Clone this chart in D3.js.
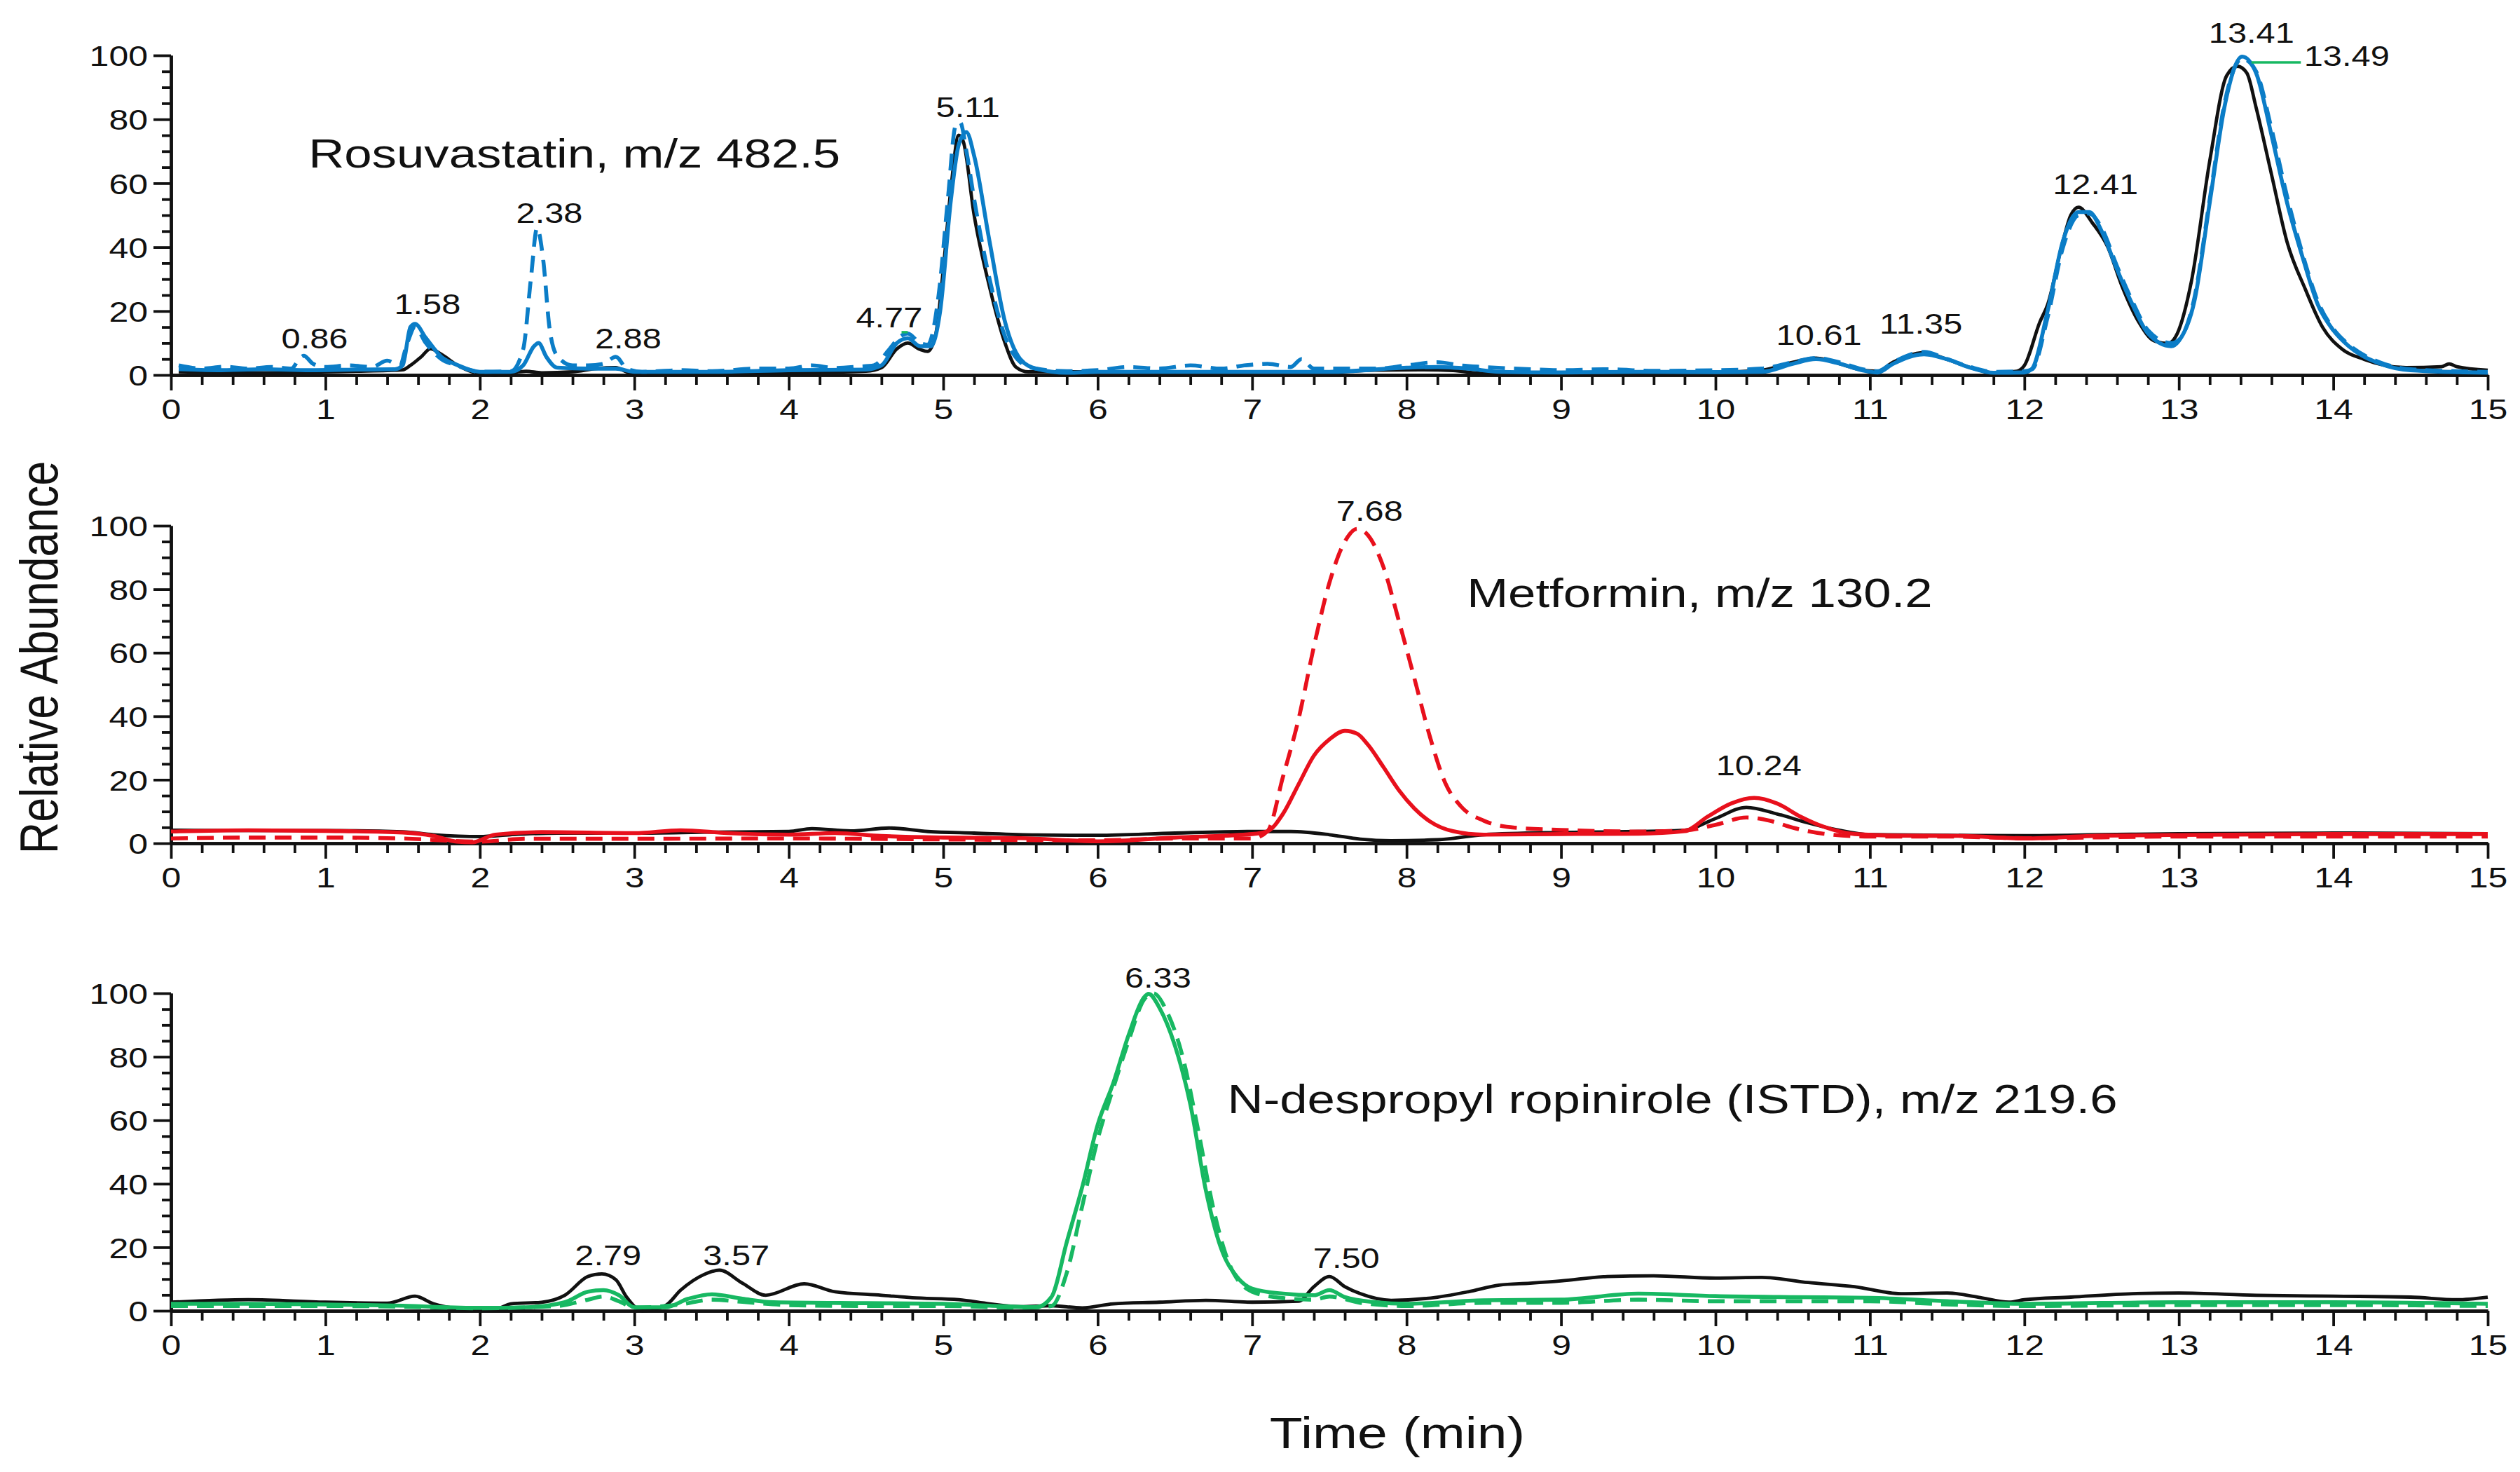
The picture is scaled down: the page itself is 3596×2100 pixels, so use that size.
<!DOCTYPE html>
<html lang="en">
<head>
<meta charset="UTF-8">
<title>Chromatograms</title>
<script src="https://d3js.org/d3.v7.min.js"></script>
<style>
  * { margin: 0; padding: 0; }
  body { background: #fff; }
  svg { display: block; }
  text { font-family: "Liberation Sans", Arial, sans-serif; fill: #111; }
</style>
</head>
<body>
<svg id="chart" width="3596" height="2100"></svg>
<script>
// ---- data: [time (min), relative abundance] ----
var timeTicks = d3.range(0, 16);
var abundanceTicks = [0, 20, 40, 60, 80, 100];

// Rosuvastatin, m/z 482.5
var rosuBlack = [[0.05,1],[0.3,0.8],[0.6,0.7],[0.9,0.9],[1.2,1.2],[1.4,1.4],[1.5,1.6],[1.55,3],[1.62,5.7],[1.68,8.2],[1.75,6.5],[1.85,3.2],[1.95,1],[2.1,0],[2.2,0.7],[2.3,1.2],[2.4,0.7],[2.6,1],[2.75,2],[2.88,2.3],[2.95,1],[3.05,0],[3.5,0.3],[4.0,0.7],[4.5,1.2],[4.6,2.3],[4.7,8.2],[4.77,10],[4.85,8],[4.9,7.4],[4.95,12.4],[5.0,33],[5.05,58.5],[5.1,75],[5.13,73],[5.2,50],[5.3,27.5],[5.4,10],[5.47,2.5],[5.55,1],[6.0,1],[6.5,0.8],[7.0,1],[7.5,1],[7.8,1.5],[8.1,1.6],[8.3,1.4],[8.5,0.5],[9.0,0.8],[9.5,0.8],[10.0,0.9],[10.3,1.5],[10.5,4],[10.65,5.3],[10.8,3.6],[10.95,1.5],[11.05,1.2],[11.15,4],[11.35,7],[11.5,4.9],[11.65,2.3],[11.8,0.7],[11.95,1.2],[12.0,3],[12.1,16.6],[12.15,22],[12.25,42],[12.3,50],[12.35,52.5],[12.44,47.6],[12.54,40],[12.63,28],[12.74,16.6],[12.84,10.7],[12.93,9.9],[12.99,13],[13.08,29],[13.2,67],[13.31,93.7],[13.38,96.6],[13.44,94.5],[13.5,83.7],[13.6,62.7],[13.7,41.7],[13.82,26.7],[13.93,15],[14.06,8],[14.2,4.9],[14.47,2.3],[14.7,2.6],[14.75,3.5],[14.8,2.6],[15,1.5]];
var rosuBlue = [[0.05,1.8],[0.3,1.5],[0.6,1.8],[0.9,1.5],[1.2,1.7],[1.45,1.8],[1.5,3],[1.55,15],[1.58,16],[1.65,11.6],[1.75,5.7],[1.85,3.2],[2.0,1],[2.2,1],[2.28,3],[2.35,9],[2.38,10],[2.43,5.7],[2.5,2.3],[2.7,2],[2.88,2],[3.0,1],[3.5,1],[4.0,1.5],[4.5,1.7],[4.6,3],[4.7,10],[4.77,11.5],[4.85,9],[4.92,9],[4.98,20],[5.05,55],[5.1,72],[5.15,76],[5.2,68.6],[5.3,41.7],[5.4,16.6],[5.5,4.9],[5.6,2],[5.8,0.7],[6.0,1],[6.5,1],[7.0,1],[7.5,1],[8.0,2.3],[8.2,2.5],[8.4,2],[8.6,1],[9.0,0.8],[9.5,1],[10.0,0.9],[10.3,1],[10.5,3.5],[10.65,5],[10.8,3.6],[10.95,1.5],[11.05,0.8],[11.15,3.5],[11.35,6.5],[11.5,4.9],[11.65,2.3],[11.8,0.7],[12.0,0.8],[12.05,2],[12.15,20],[12.25,42],[12.35,51],[12.42,51],[12.5,45],[12.6,33],[12.7,22],[12.8,13],[12.95,9],[13.0,10.7],[13.1,23],[13.2,54],[13.3,85],[13.41,99.6],[13.5,94.5],[13.6,75],[13.7,54],[13.8,37],[13.9,22],[14.0,14],[14.1,9],[14.3,3.6],[14.5,1.5],[15,0.7]];
var rosuBlueDash = [[0.05,3],[0.2,2],[0.35,2.6],[0.5,2],[0.65,2.5],[0.78,2],[0.83,5],[0.86,6],[0.92,3.5],[1.0,2.5],[1.15,3],[1.3,2.5],[1.4,4.5],[1.48,3],[1.53,10],[1.58,15],[1.65,10],[1.75,5],[1.85,3],[2.0,1],[2.2,1.2],[2.28,8],[2.33,30],[2.37,46],[2.41,36],[2.45,15],[2.5,6],[2.6,3],[2.7,3],[2.8,3.5],[2.88,5.7],[2.95,2],[3.05,1],[3.3,1.5],[3.5,1.2],[3.8,2],[4.0,2],[4.15,3],[4.3,2.2],[4.45,2.6],[4.55,3],[4.65,8],[4.72,12],[4.77,13],[4.85,10],[4.9,9.5],[4.97,25],[5.03,55],[5.08,78],[5.11,79],[5.15,70],[5.2,55],[5.3,30],[5.4,12],[5.5,4],[5.6,2],[5.8,1.2],[6.0,1.5],[6.2,2.5],[6.4,2],[6.6,3],[6.8,2],[6.95,3],[7.1,3.5],[7.25,2.5],[7.32,5],[7.4,2],[7.6,2],[7.8,2],[8.0,3],[8.2,4],[8.35,3],[8.5,2.5],[8.8,1.8],[9.0,1.5],[9.3,1.8],[9.6,1.3],[10.0,1.5],[10.3,2],[10.5,4],[10.65,5.3],[10.8,4],[10.95,1.8],[11.05,1.2],[11.15,4],[11.35,7.2],[11.5,5],[11.65,2.5],[11.8,1],[12.0,1.2],[12.05,1.8],[12.15,18],[12.25,40],[12.35,50],[12.42,50.5],[12.5,46],[12.6,34],[12.7,23],[12.8,14],[12.95,10],[13.0,11],[13.1,24],[13.2,55],[13.3,86],[13.41,99],[13.5,95],[13.6,77],[13.7,56],[13.8,38],[13.9,23],[14.0,14.5],[14.1,9.5],[14.3,4],[14.5,1.8],[14.8,1.2],[15,1]];
var rosuTitle = ["Rosuvastatin, m/z 482.5", 0.89, 65];
var rosuPeaks = [["0.86",0.93,8.4],["1.58",1.66,19],["2.38",2.45,47.6],["2.88",2.96,8.4],["4.77",4.65,15],["5.11",5.16,80.8],["10.61",10.67,9.4],["11.35",11.33,13],["12.41",12.46,56.5],["13.41",13.47,104]];
var rosuSidePeaks = [["13.49",13.81,96.7]];
var rosuLeaders = [[13.47,13.79,97.8],[4.73,4.77,13.4]];

// Metformin, m/z 130.2
var metBlack = [[0,4.1],[0.5,4],[1.0,4],[1.5,3.6],[1.7,2.7],[2.0,2.1],[2.2,2.7],[2.5,3.2],[3.0,3.2],[3.5,3.5],[4.0,3.7],[4.15,4.6],[4.4,3.9],[4.65,4.8],[4.9,3.7],[5.2,3.2],[5.6,2.6],[6.0,2.5],[6.5,3.2],[7.0,3.7],[7.25,3.7],[7.5,2.7],[7.7,1.3],[7.9,0.8],[8.2,1.1],[8.5,2.7],[9.0,3.4],[9.5,3.7],[9.8,4.1],[10.0,7.8],[10.2,11.3],[10.4,9.2],[10.6,6.4],[10.8,4.1],[11.0,2.7],[11.5,2.5],[12.0,2.4],[12.5,2.7],[13.0,3],[14.0,3.2],[15,3]];
var metRed = [[0,3.7],[0.5,4.1],[1.0,3.9],[1.5,3.4],[1.7,2.3],[1.85,0.5],[1.95,0.3],[2.1,2.7],[2.4,3.5],[3.0,3.2],[3.3,4.1],[3.6,3.2],[4.0,2.7],[4.3,3.2],[4.6,2.3],[5.0,1.8],[5.5,1.6],[6.0,0.6],[6.5,1.8],[7.0,2.9],[7.1,3.8],[7.2,9.3],[7.3,18.5],[7.4,27.6],[7.5,32.7],[7.6,35.4],[7.68,34.5],[7.75,31],[7.85,24],[7.95,16.7],[8.05,11],[8.15,6.9],[8.3,3.8],[8.5,2.7],[9.0,2.9],[9.5,3],[9.8,3.8],[9.95,8.4],[10.1,12.5],[10.25,14.3],[10.4,12.5],[10.55,8.4],[10.7,5.2],[10.9,2.9],[11.2,2.4],[11.6,2.3],[12.0,1.5],[12.5,2.4],[13.0,2.6],[14.0,2.9],[15,2.9]];
var metRedDash = [[0,1.5],[0.5,1.8],[1.0,1.8],[1.5,1.5],[2.0,0.5],[2.3,1.4],[3.0,1.4],[4.0,1.5],[5.0,1.2],[6.0,0.9],[6.5,1.5],[7.0,1.5],[7.1,3.8],[7.2,21],[7.3,39],[7.4,62],[7.5,82],[7.6,95],[7.68,99],[7.75,97],[7.85,87],[7.95,70],[8.05,52],[8.15,33.7],[8.25,19],[8.35,11.7],[8.5,7.1],[8.7,4.9],[9.0,4.2],[9.5,3.7],[9.8,4],[10.0,5.8],[10.2,8.1],[10.35,7.1],[10.5,4.9],[10.7,3],[11.0,2.1],[11.5,2.1],[12.0,1.6],[13.0,2.1],[14.0,2.1],[15,2.1]];
var metTitle = ["Metformin, m/z 130.2", 8.39, 74.4];
var metPeaks = [["7.68",7.76,101.5],["10.24",10.28,21.4]];

// N-despropyl ropinirole (ISTD), m/z 219.6
var istdBlack = [[0,2.7],[0.5,3.5],[1.0,2.7],[1.4,2.4],[1.58,4.6],[1.7,2.2],[1.85,0.8],[2.1,0.5],[2.2,2.2],[2.4,2.7],[2.55,4.9],[2.7,10.8],[2.79,11.6],[2.88,9.8],[2.95,4.3],[3.05,0],[3.2,1.6],[3.3,6.5],[3.45,11.4],[3.55,12.8],[3.7,8.7],[3.85,4.9],[4.1,8.5],[4.3,6],[4.6,4.9],[4.8,4.1],[5.1,3.5],[5.3,2.2],[5.5,1.3],[5.7,1.6],[5.9,0.9],[6.1,2.2],[6.4,2.7],[6.7,3.3],[7.0,2.7],[7.3,3],[7.4,7.6],[7.5,10.8],[7.6,7.6],[7.7,5.4],[7.9,3.3],[8.2,4.3],[8.4,6],[8.6,8.1],[8.8,8.7],[9.0,9.4],[9.3,10.8],[9.6,11],[10.0,10.3],[10.3,10.5],[10.6,8.9],[10.9,7.6],[11.2,5.4],[11.5,5.6],[11.7,4.3],[11.9,2.7],[12.0,3.5],[12.3,4.3],[12.7,5.4],[13.0,5.6],[13.5,4.9],[14.0,4.6],[14.5,4.3],[14.8,3.5],[15,4.3]];
var istdGreen = [[0,2.2],[0.5,2.2],[1.0,2],[1.5,1.6],[2.0,0.9],[2.3,1.1],[2.55,2.7],[2.7,6],[2.8,6.5],[2.9,4.9],[3.0,1.1],[3.2,1.1],[3.35,3.8],[3.5,5.2],[3.7,3.8],[3.9,2.7],[4.5,2.4],[5.0,2.2],[5.3,1.6],[5.6,1.1],[5.7,4.3],[5.8,21.7],[5.9,39],[6.0,58.6],[6.1,71.6],[6.2,86.8],[6.3,98.7],[6.33,99.8],[6.4,95.4],[6.5,83.5],[6.6,65],[6.7,38],[6.8,19.5],[6.9,10.8],[7.0,7],[7.2,5.4],[7.4,4.9],[7.5,6.5],[7.6,4.3],[7.8,2.7],[8.0,2.2],[8.5,3.3],[9.0,3.5],[9.5,5.4],[10.0,4.6],[10.5,4.3],[11.0,4.1],[11.5,3],[12.0,2.2],[13.0,2.7],[14.0,2.7],[15,2.2]];
var istdGreenDash = [[0,1.5],[0.5,1.5],[1.0,1.5],[1.5,1.3],[2.0,0.8],[2.5,1.5],[2.7,3.5],[2.8,4.5],[2.9,3],[3.0,1],[3.3,2],[3.5,3.5],[3.7,2.8],[4.0,1.8],[4.5,1.5],[5.0,1.5],[5.5,1],[5.7,1.5],[5.8,12],[5.9,33],[6.0,54],[6.1,70],[6.2,85],[6.3,98],[6.36,100],[6.45,94],[6.55,80],[6.65,57],[6.75,32],[6.85,15],[7.0,6],[7.2,4],[7.4,3.5],[7.5,4.5],[7.7,2.5],[8.0,1.5],[8.5,2.5],[9.0,2.5],[9.5,3.5],[10.0,3],[11.0,3],[11.5,2],[12.0,1.5],[13.0,1.8],[14.0,1.8],[15,1.5]];
var istdTitle = ["N-despropyl ropinirole (ISTD), m/z 219.6", 6.84, 62.3];
var istdPeaks = [["2.79",2.83,14.3],["3.57",3.66,14.3],["6.33",6.39,101.7],["7.50",7.61,13.5]];

// ---- layout ----
var BLACK = "#111", BLUE = "#0b7dc7", RED = "#e8101c", GREEN = "#17b862";
var left = 244, right = 3550;
var SX = 1.22;          // the source figure is stretched sideways, glyphs too
var DASH = "24,13";

var panels = [
  { top: 79,   bottom: 535,  title: rosuTitle, peaks: rosuPeaks, side: rosuSidePeaks, leaders: rosuLeaders, leaderColor: GREEN,
    series: [{ d: rosuBlack, c: BLACK }, { d: rosuBlueDash, c: BLUE, dash: true }, { d: rosuBlue, c: BLUE }] },
  { top: 750,  bottom: 1203, title: metTitle, peaks: metPeaks, side: [], leaders: [],
    series: [{ d: metBlack, c: BLACK }, { d: metRedDash, c: RED, dash: true }, { d: metRed, c: RED }] },
  { top: 1417, bottom: 1870, title: istdTitle, peaks: istdPeaks, side: [], leaders: [],
    series: [{ d: istdBlack, c: BLACK }, { d: istdGreenDash, c: GREEN, dash: true }, { d: istdGreen, c: GREEN }] }
];

var svg = d3.select("#chart");
svg.append("rect").attr("width", 3596).attr("height", 2100).attr("fill", "#fff");

var x = d3.scaleLinear().domain([0, 15]).range([left, right]);
var minorTimes = d3.range(0, 75).map(function (i) { return i * 0.2; }).filter(function (t) { return Math.abs(t - Math.round(t)) > 0.01; });
var minorAbund = d3.range(0, 101, 5).filter(function (v) { return v % 20 !== 0; });

function styleAxis(g) {
  g.select(".domain").attr("stroke", BLACK).attr("stroke-width", 4.5);
  g.selectAll(".tick line").attr("stroke", BLACK).attr("stroke-width", 3.8);
}

panels.forEach(function (p) {
  var y = d3.scaleLinear().domain([0, 100]).range([p.bottom, p.top]);
  var g = svg.append("g");

  // minor ticks
  g.append("g").attr("transform", "translate(0," + p.bottom + ")")
    .call(d3.axisBottom(x).tickValues(minorTimes).tickSize(14).tickSizeOuter(0).tickFormat(""))
    .call(styleAxis);
  g.append("g").attr("transform", "translate(" + left + ",0)")
    .call(d3.axisLeft(y).tickValues(minorAbund).tickSize(13).tickSizeOuter(0).tickFormat(""))
    .call(styleAxis);

  // major ticks + labels
  var xa = g.append("g").attr("transform", "translate(0," + p.bottom + ")")
    .call(d3.axisBottom(x).tickValues(timeTicks).tickSize(22).tickSizeOuter(0).tickFormat(d3.format("d")))
    .call(styleAxis);
  xa.selectAll("text").attr("y", 63).attr("dy", 0)
    .attr("transform", "scale(" + SX + ",1)")
    .style("font-size", "41px").style("font-family", "'Liberation Sans', Arial, sans-serif").attr("fill", "#1a1a1a");

  var ya = g.append("g").attr("transform", "translate(" + left + ",0)")
    .call(d3.axisLeft(y).tickValues(abundanceTicks).tickSize(25).tickSizeOuter(0).tickFormat(d3.format("d")))
    .call(styleAxis);
  ya.selectAll("text").attr("x", -33 / SX).attr("dy", "0.36em")
    .attr("transform", "scale(" + SX + ",1)")
    .style("font-size", "41px").style("font-family", "'Liberation Sans', Arial, sans-serif").attr("fill", "#1a1a1a");

  // traces
  var line = d3.line()
    .x(function (d) { return x(d[0]); })
    .y(function (d) { return y(d[1]); })
    .curve(d3.curveMonotoneX);
  p.series.forEach(function (s) {
    g.append("path").datum(s.d)
      .attr("d", line)
      .attr("fill", "none")
      .attr("stroke", s.c)
      .attr("stroke-width", s.c === BLACK ? 4.8 : 5.6)
      .attr("stroke-linejoin", "round")
      .attr("stroke-dasharray", s.dash ? DASH : null);
  });

  // leader lines
  g.selectAll(".leader").data(p.leaders).enter().append("line")
    .attr("x1", function (d) { return x(d[0]); })
    .attr("x2", function (d) { return x(d[1]); })
    .attr("y1", function (d) { return y(d[2]); })
    .attr("y2", function (d) { return y(d[2]); })
    .attr("stroke", p.leaderColor).attr("stroke-width", 3.5);

  // peak labels
  g.selectAll(".peak").data(p.peaks).enter().append("text")
    .attr("transform", function (d) { return "translate(" + x(d[1]) + "," + y(d[2]) + ") scale(" + SX + ",1)"; })
    .attr("text-anchor", "middle")
    .style("font-size", "40px")
    .attr("fill", "#1a1a1a")
    .text(function (d) { return d[0]; });
  g.selectAll(".side").data(p.side).enter().append("text")
    .attr("transform", function (d) { return "translate(" + x(d[1]) + "," + y(d[2]) + ") scale(" + SX + ",1)"; })
    .attr("text-anchor", "start")
    .style("font-size", "40px")
    .attr("fill", "#1a1a1a")
    .text(function (d) { return d[0]; });

  // compound title
  g.append("text")
    .attr("transform", "translate(" + x(p.title[1]) + "," + y(p.title[2]) + ") scale(" + SX + ",1)")
    .style("font-size", "58px")
    .text(p.title[0]);
});

// axis titles
svg.append("text")
  .attr("transform", "translate(82,938) rotate(-90) scale(1," + SX + ")")
  .attr("text-anchor", "middle")
  .style("font-size", "63px")
  .text("Relative Abundance");

svg.append("text")
  .attr("transform", "translate(1994,2066) scale(" + SX + ",1)")
  .attr("text-anchor", "middle")
  .style("font-size", "63px")
  .text("Time (min)");
</script>
</body>
</html>
